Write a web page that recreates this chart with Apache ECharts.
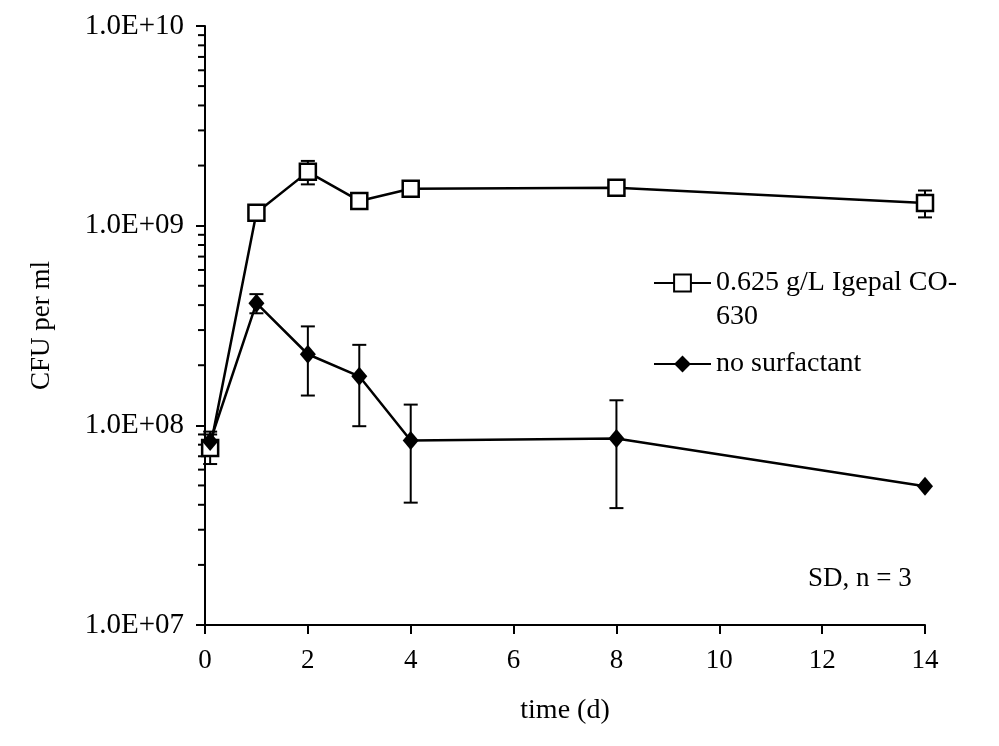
<!DOCTYPE html>
<html>
<head>
<meta charset="utf-8">
<script src="https://cdn.jsdelivr.net/npm/echarts@6/dist/echarts.min.js"></script>
<style>
html,body{margin:0;padding:0;background:#fff;}
#chart{width:999px;height:746px;}
</style>
</head>
<body>
<div id="chart"></div>
<script>
// ---- data ----
var timeDays = [0.1, 1, 2, 3, 4, 8, 14];
var igepalMean = [7.7e7, 1.16e9, 1.86e9, 1.33e9, 1.53e9, 1.55e9, 1.30e9];
var igepalSD   = [1.3e7, 0.08e9, 0.25e9, 0.08e9, 0.05e9, 0.05e9, 0.20e9];
var noSurfMean = [8.3e7, 4.09e8, 2.27e8, 1.76e8, 8.4e7, 8.6e7, 4.95e7];
var noSurfSD   = [1.0e7, 0.45e8, 0.86e8, 0.77e8, 4.3e7, 4.75e7, 0];
var seriesNames = ['0.625 g/L Igepal CO-630', 'no surfactant'];
var legendLines = ['0.625 g/L Igepal CO-', '630'];
var xTickLabels = ['0', '2', '4', '6', '8', '10', '12', '14'];
var yTickLabels = ['1.0E+07', '1.0E+08', '1.0E+09', '1.0E+10'];
var yMinorTicks = [2e7,3e7,4e7,5e7,6e7,7e7,8e7,9e7,
                   2e8,3e8,4e8,5e8,6e8,7e8,8e8,9e8,
                   2e9,3e9,4e9,5e9,6e9,7e9,8e9,9e9];
var noteText = 'SD, n = 3';

// ---- build ----
var FONT = 'Liberation Serif';
var FS = 27;
function pairs(xs, ys){ return xs.map(function(x,i){ return [x, ys[i]]; }); }
function errs(xs, m, s){ return xs.map(function(x,i){ return [x, m[i]-s[i], m[i]+s[i]]; }); }

function errRender(params, api){
  var x = api.value(0);
  if (api.value(2) === api.value(1)) return null;
  var lo = api.coord([x, api.value(1)]);
  var hi = api.coord([x, api.value(2)]);
  var cw = 7;
  var st = {stroke:'#000', lineWidth:2};
  return {type:'group', children:[
    {type:'line', shape:{x1:lo[0], y1:lo[1], x2:hi[0], y2:hi[1]}, style:st},
    {type:'line', shape:{x1:lo[0]-cw, y1:lo[1], x2:lo[0]+cw, y2:lo[1]}, style:st},
    {type:'line', shape:{x1:hi[0]-cw, y1:hi[1], x2:hi[0]+cw, y2:hi[1]}, style:st}
  ]};
}

var chart = echarts.init(document.getElementById('chart'), null, {renderer:'canvas'});
var option = {
  backgroundColor:'#fff',
  animation:false,
  textStyle:{fontFamily:FONT, color:'#000'},
  grid:{left:205, right:74, top:26, bottom:121, containLabel:false},
  xAxis:{
    type:'value', min:0, max:14, interval:2,
    name:'time (d)', nameLocation:'middle', nameGap:72,
    nameTextStyle:{fontFamily:FONT, fontSize:28, color:'#000'},
    axisLine:{show:true, lineStyle:{color:'#000', width:2}},
    axisTick:{show:true, inside:false, length:9, lineStyle:{color:'#000', width:2}},
    axisLabel:{margin:22, fontFamily:FONT, fontSize:FS, color:'#000',
      formatter:function(v){ return xTickLabels[Math.round(v/2)]; }},
    splitLine:{show:false}
  },
  yAxis:{
    type:'log', logBase:10, min:1e7, max:1e10,
    name:'CFU per ml', nameLocation:'middle', nameGap:150, nameRotate:90,
    nameTextStyle:{fontFamily:FONT, fontSize:FS, color:'#000'},
    axisLine:{show:true, lineStyle:{color:'#000', width:2}},
    axisTick:{show:true, inside:false, length:9, lineStyle:{color:'#000', width:2}},
    axisLabel:{margin:21, fontFamily:FONT, fontSize:29, color:'#000',
      formatter:function(v, i){ return yTickLabels[Math.round(Math.log10(v)) - 7]; }},
    splitLine:{show:false}
  },
  legend:[
    {data:[seriesNames[0]], orient:'vertical', left:653, top:232, padding:0,
     itemWidth:57, itemHeight:21, itemGap:0,
     formatter:function(n){ return ' \n' + legendLines.join('\n'); },
     textStyle:{fontFamily:FONT, fontSize:28, color:'#000', lineHeight:34}},
    {data:[seriesNames[1]], orient:'vertical', left:653, top:347, padding:0,
     itemWidth:57, itemHeight:21, itemGap:0,
     textStyle:{fontFamily:FONT, fontSize:28, color:'#000', lineHeight:34}}
  ],
  graphic:[
    {type:'text', left:808, top:565, silent:true,
     style:{text:noteText, font:FS+'px "'+FONT+'"', fill:'#000'}}
  ],
  series:[
    {type:'custom', name:'minorTicks', silent:true, z:1, clip:false,
     data:yMinorTicks.map(function(v){ return [0, v]; }),
     encode:{x:0, y:1},
     renderItem:function(params, api){
       var p = api.coord([0, api.value(1)]);
       return {type:'line', shape:{x1:p[0]-7, y1:p[1], x2:p[0], y2:p[1]},
               style:{stroke:'#000', lineWidth:2}};
     }},
    {type:'custom', name:'errIgepal', silent:true, z:2, clip:false,
     data:errs(timeDays, igepalMean, igepalSD), encode:{x:0, y:[1,2]},
     renderItem:errRender},
    {type:'custom', name:'errNoSurf', silent:true, z:2, clip:false,
     data:errs(timeDays, noSurfMean, noSurfSD), encode:{x:0, y:[1,2]},
     renderItem:errRender},
    {type:'line', name:seriesNames[0], z:3,
     data:pairs(timeDays, igepalMean),
     symbol:'rect', symbolSize:16, showAllSymbol:true,
     lineStyle:{color:'#000', width:2.5},
     itemStyle:{color:'#fff', borderColor:'#000', borderWidth:2.5}},
    {type:'line', name:seriesNames[1], z:4,
     data:pairs(timeDays, noSurfMean),
     symbol:'diamond', symbolSize:[16,19], showAllSymbol:true,
     lineStyle:{color:'#000', width:2.5},
     itemStyle:{color:'#000', borderColor:'#000', borderWidth:0}}
  ]
};
chart.setOption(option);
</script>
</body>
</html>
